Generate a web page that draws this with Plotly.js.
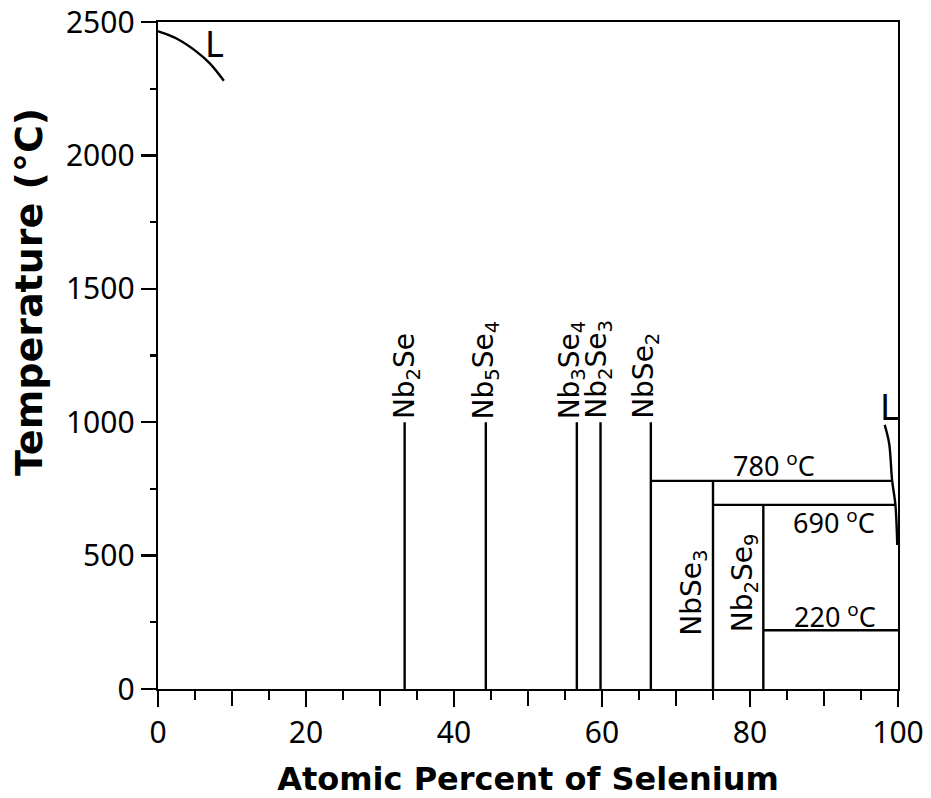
<!DOCTYPE html>
<html>
<head>
<meta charset="utf-8">
<script src="https://cdn.plot.ly/plotly-3.0.1.min.js"></script>
<style>html,body{margin:0;padding:0;background:#fff;}#chart{width:931px;height:798px;}</style>
</head>
<body>
<div id="chart"></div>
<script>
// Compound lines (vertical), Se atomic percent and top temperature
const compoundNames = ["Nb<sub>2</sub>Se", "Nb<sub>5</sub>Se<sub>4</sub>", "Nb<sub>3</sub>Se<sub>4</sub>", "Nb<sub>2</sub>Se<sub>3</sub>", "NbSe<sub>2</sub>", "NbSe<sub>3</sub>", "Nb<sub>2</sub>Se<sub>9</sub>"];
const compoundX = [33.33, 44.3, 56.6, 59.8, 66.6, 75.0, 81.8];
const compoundTop = [1000, 1000, 1000, 1000, 1000, 780, 690];
// label positions for compound names
const labelX = [33.5, 44.3, 55.9, 59.6, 65.9, 72.4, 79.2];
const labelY = [1000, 1000, 1000, 1000, 1000, 360, 397];

// Horizontal invariant lines
const isoTemps = [780, 690, 220];
const isoStart = [66.6, 75.0, 81.8];
const isoEnd = [99.3, 99.65, 100];
const isoLabels = ["780 <sup>o</sup>C", "690 <sup>o</sup>C", "220 <sup>o</sup>C"];
const isoLabelX = [83.2, 91.3, 91.5];
const isoLabelY = [840, 626, 274];

// Liquidus curves
const liqLeftX = [0, 0.25, 2.5, 5.2, 7.0, 8.9];
const liqLeftT = [2466, 2463, 2438, 2389, 2345, 2280];
const liqRightX = [98.2, 98.8, 99.2, 99.65, 99.9];
const liqRightT = [990, 921, 783, 690, 540];

const xLabelVals = [0, 20, 40, 60, 80, 100];
const xLongTickVals = [0, 10, 20, 30, 40, 50, 60, 70, 80, 90, 100];

const lineStyle = {color: "#000", width: 2.4};
const traces = [];
compoundX.forEach((x, i) => {
  traces.push({x: [x, x], y: [0, compoundTop[i]], mode: "lines", line: lineStyle, hoverinfo: "skip", showlegend: false});
});
isoTemps.forEach((t, i) => {
  traces.push({x: [isoStart[i], isoEnd[i]], y: [t, t], mode: "lines", line: lineStyle, hoverinfo: "skip", showlegend: false});
});
traces.push({x: liqLeftX, y: liqLeftT, mode: "lines", line: {color: "#000", width: 2.4, shape: "spline"}, showlegend: false});
traces.push({x: liqRightX, y: liqRightT, mode: "lines", line: {color: "#000", width: 2.4, shape: "spline"}, showlegend: false});
// invisible trace to activate the secondary x axis (long ticks every 10)
traces.push({x: [0, 100], y: [0, 0], xaxis: "x2", mode: "lines", line: {width: 0}, hoverinfo: "skip", showlegend: false});

const FONT = "Noto Sans, Open Sans, sans-serif";
const LFONT = "DejaVu Sans, sans-serif";
const annotations = [];
compoundNames.forEach((n, i) => {
  annotations.push({x: labelX[i], y: labelY[i], xref: "x", yref: "y", text: n, textangle: -90,
    showarrow: false, xanchor: "center", yanchor: i < 5 ? "bottom" : "middle", yshift: i < 5 ? 1 : 0,
    font: {family: LFONT, size: 28, color: "#000"}});
});
isoLabels.forEach((t, i) => {
  annotations.push({x: isoLabelX[i], y: isoLabelY[i], xref: "x", yref: "y", text: t, showarrow: false,
    xanchor: "center", yanchor: "middle", font: {family: FONT, size: 27, color: "#000"}});
});
annotations.push({x: 7.7, y: 2421, xref: "x", yref: "y", text: "L", showarrow: false, xanchor: "center", yanchor: "middle", font: {family: FONT, size: 36, color: "#000"}});
annotations.push({x: 98.85, y: 1059, xref: "x", yref: "y", text: "L", showarrow: false, xanchor: "center", yanchor: "middle", font: {family: FONT, size: 36, color: "#000"}});
annotations.push({x: (29 - 158) / 740, y: (689 - 292) / 667, xref: "paper", yref: "paper", text: "<b>Temperature (°C)</b>", showarrow: false, textangle: -90,
  xanchor: "center", yanchor: "middle", font: {family: LFONT, size: 38, color: "#000"}});

const layout = {
  width: 931, height: 798,
  margin: {l: 158, r: 33, t: 22, b: 109},
  paper_bgcolor: "#fff", plot_bgcolor: "#fff",
  font: {family: FONT, color: "#000"},
  xaxis: {
    range: [0, 100], showgrid: false, zeroline: false,
    showline: true, linecolor: "#000", linewidth: 2.4, mirror: true,
    ticks: "outside", ticklen: 16, tickwidth: 2.4, tickcolor: "#000",
    tickvals: xLabelVals,
    tickfont: {family: FONT, size: 30, color: "#000"},
    minor: {dtick: 5, tick0: 0, ticks: "outside", ticklen: 9, tickwidth: 2.4, tickcolor: "#000", showgrid: false},
    title: {text: "<b>Atomic Percent of Selenium</b>", font: {family: LFONT, size: 32, color: "#000"}, standoff: 20}
  },
  xaxis2: {
    range: [0, 100], overlaying: "x", anchor: "y", side: "bottom",
    showgrid: false, zeroline: false, showline: false,
    ticks: "outside", ticklen: 16, tickwidth: 2.4, tickcolor: "#000",
    tickvals: xLongTickVals, showticklabels: false
  },
  yaxis: {
    range: [0, 2500], showgrid: false, zeroline: false,
    showline: true, linecolor: "#000", linewidth: 2.4, mirror: true,
    ticks: "outside", ticklen: 15, tickwidth: 2.4, tickcolor: "#000",
    dtick: 500, tick0: 0,
    tickfont: {family: FONT, size: 30, color: "#000"},
    minor: {dtick: 250, ticks: "outside", ticklen: 6, tickwidth: 2.4, tickcolor: "#000", showgrid: false}
  },
  annotations: annotations,
  showlegend: false
};
Plotly.newPlot("chart", traces, layout, {staticPlot: true});
</script>
</body>
</html>
